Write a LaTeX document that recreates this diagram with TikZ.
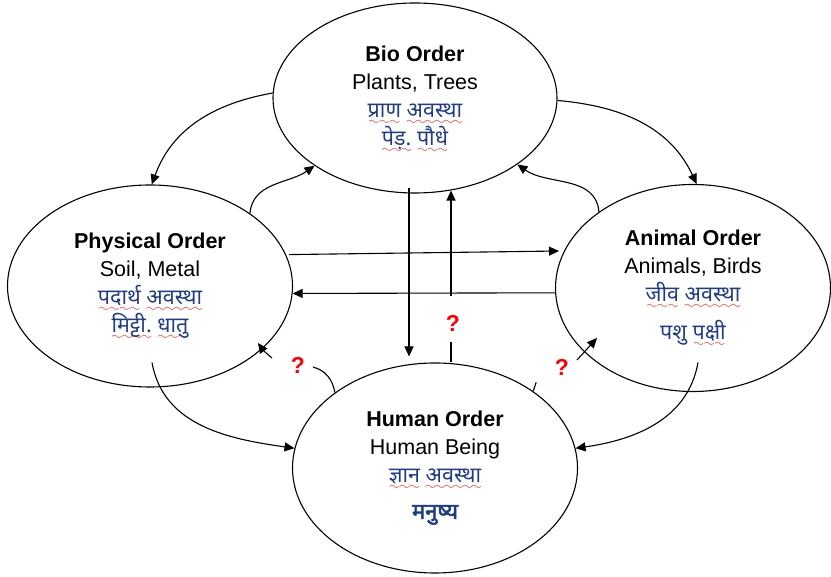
\documentclass[tikz,border=0pt]{standalone}
\usepackage{fontspec}
\setmainfont{Liberation Sans}
\newfontfamily\dev[Script=Devanagari]{Noto Sans}
\newfontfamily\devbold[Script=Devanagari,FakeBold=2.5]{Noto Sans}
\usetikzlibrary{shapes.geometric,arrows.meta}
\definecolor{navy}{HTML}{1F3C88}
% red wavy underline built from the lasy wave glyph
\font\wavefont=lasy6 scaled 1800
\newcommand\wv[1]{\setbox0\hbox{#1}\leavevmode\rlap{\textcolor{red}{\raisebox{-7pt}[0pt][0pt]{\hbox to\wd0{\xleaders\hbox{\wavefont\char58}\hfil}}}}\box0\relax}
\newcommand\hin[1]{{\dev\fontsize{21.5}{28}\selectfont\color{navy}#1}}
\newcommand\hinb[1]{{\devbold\fontsize{22}{28}\selectfont\color{navy}#1}}

\begin{document}
\begin{tikzpicture}[x=1pt,y=1pt,
  every path/.style={line width=1.1pt},
  order/.style={ellipse, draw, align=center, inner sep=0pt,
    font=\fontsize{21.5}{28}\selectfont},
  arr/.style={-{Triangle[length=10pt,width=9pt]}},
  qmark/.style={text=red, font=\fontsize{23}{23}\selectfont\bfseries, inner sep=0pt}]
\useasboundingbox (0,0) rectangle (831,577);

% the four orders
\node[order, minimum width=284pt, minimum height=190pt] (bio) at (415,479)
  {{\bfseries Bio Order}\\ Plants, Trees\\ \hin{\wv{प्राण} \wv{अवस्था}}\\ \hin{\wv{पेड़.} \wv{पौधे}}};
\node[order, minimum width=285pt, minimum height=202pt] (phys) at (150,291)
  {{\bfseries Physical Order}\\ Soil, Metal\\ \hin{\wv{पदार्थ} \wv{अवस्था}}\\ \hin{\wv{मिट्टी.} \wv{धातु}}};
\node[order, minimum width=275pt, minimum height=207pt] (anim) at (693,289)
  {{\bfseries Animal Order}\\ Animals, Birds\\ \hin{\wv{जीव} \wv{अवस्था}}\\[10pt] \hin{पशु \wv{पक्षी}}};
\node[order, minimum width=285pt, minimum height=210pt] (hum) at (435,109)
  {{\bfseries Human Order}\\ Human Being\\ \hin{\wv{ज्ञान} \wv{अवस्था}}\\[8pt] \hinb{मनुष्य}};

% curved links around the top
\draw[arr] (bio.178) to[out=190,in=70] (phys.89);
\draw[arr] (bio.359) to[out=-5,in=115] (anim.88);
\draw[arr] (phys.36) to[out=85,in=215] (bio.214);
\draw[arr] (anim.141) to[out=95,in=-35] (bio.327);

% straight links through the middle
\draw[arr] ([xshift=-6pt,yshift=6pt]bio.south) -- ([xshift=-6pt,yshift=6pt]bio.south |- hum.north);
\draw ([xshift=16pt]hum.north) -- ++(0,20);
\coordinate (u2) at ([xshift=16pt,yshift=66pt]hum.north);
\draw[arr] (u2) -- (u2 |- bio.291.4);
\draw[arr] ([xshift=3pt]phys.13.8) -- ([xshift=-5pt]anim.164.9);
\draw[arr] (anim.182.1) -- (phys.357.2);

% curved links down to the human order
\draw[arr] ([xshift=2pt,yshift=25pt]phys.south) to[out=-80,in=172] (hum.172);
\draw[arr] ([xshift=5pt,yshift=29.5pt]anim.south) to[out=-100,in=8] (hum.8);

% uncertain links from the human order
\coordinate (qa) at (313,210);
\coordinate (qb) at (272,219);
\coordinate (qc) at (258,234);
\draw (hum.143) to[out=100,in=-15] (qa);
\draw[arr] (qb) to[bend left=8] (qc);
\coordinate (qd) at (577,217);
\coordinate (qe) at (597,239);
\draw (hum.38) -- ++(3,9);
\draw[arr] (qd) -- (qe);

\node[qmark] (q1) at (298,212) {?};
\node[qmark] (q2) at (453,254) {?};
\node[qmark] (q3) at (562,210) {?};
\end{tikzpicture}
\end{document}
